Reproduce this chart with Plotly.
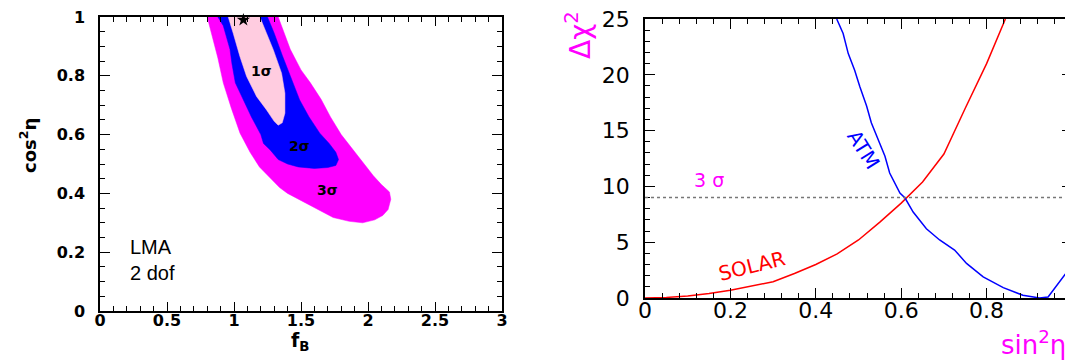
import plotly.graph_objects as go

# ---------------- data: left panel (f_B vs cos^2 eta contours) ----------------
sig3_x = [0.80, 1.33, 1.33, 1.42, 1.50, 1.57, 1.65, 1.72, 1.80, 1.89, 1.97, 2.04, 2.10, 2.16, 2.17,
          2.15, 2.11, 2.05, 1.96, 1.86, 1.74, 1.59, 1.46, 1.40, 1.34, 1.25, 1.19, 1.12, 1.045, 0.98,
          0.92, 0.88, 0.84, 0.80]
sig3_y = [1.03, 1.03, 1.0, 0.89, 0.82, 0.776, 0.72, 0.66, 0.60, 0.548, 0.50, 0.46, 0.43, 0.405, 0.38,
          0.345, 0.325, 0.31, 0.30, 0.305, 0.318, 0.354, 0.385, 0.40, 0.42, 0.46, 0.49, 0.54, 0.605, 0.69,
          0.776, 0.86, 0.93, 1.0]

sig2_x = [0.88, 1.25, 1.25, 1.30, 1.36, 1.42, 1.49, 1.56, 1.64, 1.71, 1.76, 1.78, 1.76, 1.70, 1.60,
          1.48, 1.40, 1.33, 1.27, 1.22, 1.20, 1.13, 1.07, 1.01, 0.985, 0.97, 0.92, 0.88]
sig2_y = [1.03, 1.03, 1.0, 0.945, 0.87, 0.80, 0.718, 0.66, 0.605, 0.57, 0.54, 0.515, 0.495, 0.488, 0.485,
          0.49, 0.50, 0.515, 0.548, 0.57, 0.60, 0.66, 0.72, 0.776, 0.84, 0.89, 0.97, 1.0]

sig1_x = [0.957, 1.193, 1.193, 1.243, 1.293, 1.355, 1.38, 1.38, 1.36, 1.33, 1.30, 1.243, 1.168,
          1.094, 1.044, 0.994, 0.957]
sig1_y = [1.03, 1.03, 1.0, 0.945, 0.889, 0.809, 0.741, 0.673, 0.64, 0.632, 0.645, 0.684, 0.73,
          0.798, 0.866, 0.945, 1.0]

best_fit_x = [1.07]
best_fit_y = [0.99]

left_xticks = [0, 0.5, 1, 1.5, 2, 2.5, 3]
left_xlabels = ["0", "0.5", "1", "1.5", "2", "2.5", "3"]
left_yticks = [0, 0.2, 0.4, 0.6, 0.8, 1]
left_ylabels = ["0", "0.2", "0.4", "0.6", "0.8", "1"]

# ---------------- data: right panel (delta chi^2 vs sin^2 eta) ----------------
solar_x = [0, 0.05, 0.1, 0.15, 0.2, 0.25, 0.3, 0.35, 0.4, 0.45, 0.5, 0.55, 0.6, 0.65, 0.7, 0.75, 0.8, 0.844]
solar_y = [0, 0.05, 0.18, 0.4, 0.7, 1.05, 1.45, 2.2, 3.0, 3.95, 5.2, 6.8, 8.5, 10.4, 12.9, 17.0, 21.0, 25.0]

atm_x = [0.449, 0.464, 0.476, 0.491, 0.503, 0.519, 0.53, 0.546, 0.562, 0.573, 0.589, 0.597, 0.609,
         0.628, 0.659, 0.69, 0.725, 0.753, 0.792, 0.839, 0.885, 0.924, 0.944, 0.971, 1.0]
atm_y = [25, 23.7, 21.9, 20.4, 18.95, 17.2, 15.7, 14.2, 12.7, 11.2, 10.0, 9.4, 8.96,
         7.7, 6.2, 5.2, 4.3, 3.1, 1.9, 0.93, 0.24, 0.0, 0.09, 1.44, 2.93]

three_sigma_level = 9.0

right_xticks = [0, 0.2, 0.4, 0.6, 0.8, 1]
right_xlabels = ["0", "0.2", "0.4", "0.6", "0.8", "1"]
right_yticks = [0, 5, 10, 15, 20, 25]
right_ylabels = ["0", "5", "10", "15", "20", "25"]

# ---------------- figure ----------------
W, H = 1073, 360
OFF = 8  # page body margin offset


def px(xp):
    return (xp - OFF) / W


def py(yp):
    return 1 - (yp - OFF) / H


fig = go.Figure()

MAGENTA = "#ff00ff"
BLUE = "#0000ff"
PINK = "#ffcce0"

for xs, ys, col in [(sig3_x, sig3_y, MAGENTA), (sig2_x, sig2_y, BLUE), (sig1_x, sig1_y, PINK)]:
    fig.add_trace(go.Scatter(x=xs, y=ys, mode="lines", fill="toself", fillcolor=col,
                             line=dict(color=col, width=0.5), xaxis="x", yaxis="y",
                             hoverinfo="skip", showlegend=False))

fig.add_trace(go.Scatter(x=best_fit_x, y=best_fit_y, mode="markers",
                         marker=dict(symbol="star", size=10, color="black"),
                         xaxis="x", yaxis="y", cliponaxis=False, showlegend=False))

fig.add_trace(go.Scatter(x=solar_x, y=solar_y, mode="lines", line=dict(color="#ff0000", width=1.5),
                         xaxis="x2", yaxis="y2", showlegend=False))
fig.add_trace(go.Scatter(x=atm_x, y=atm_y, mode="lines", line=dict(color=BLUE, width=1.5),
                         xaxis="x2", yaxis="y2", showlegend=False))

fig.add_shape(type="line", xref="x2", yref="y2", x0=0, x1=1, y0=three_sigma_level, y1=three_sigma_level,
              line=dict(color="#777777", width=1.5, dash="dot"))

left_tick_font = dict(family="DejaVu Sans", size=16, color="black", weight="bold")
right_tick_font = dict(family="DejaVu Sans", size=22, color="black")

common = dict(showline=True, linecolor="black", linewidth=1.5, mirror="ticks", ticks="inside",
              tickcolor="black", tickwidth=1.2, showgrid=False, zeroline=False, fixedrange=True,
              automargin=False, ticklabeloverflow="allow")

fig.update_layout(
    width=W, height=H, margin=dict(l=0, r=0, t=0, b=0, autoexpand=False),
    paper_bgcolor="white", plot_bgcolor="white",
    xaxis=dict(domain=[px(100), px(502)], range=[0, 3], anchor="y",
               tickvals=left_xticks, ticktext=left_xlabels, ticklen=9,
               minor=dict(dtick=0.1, ticklen=5, ticks="inside", tickcolor="black", tickwidth=1),
               tickfont=left_tick_font, ticklabelstandoff=-6, **common),
    yaxis=dict(domain=[py(311), py(17)], range=[0, 1], anchor="x",
               tickvals=left_yticks, ticktext=left_ylabels, ticklen=10,
               minor=dict(dtick=0.05, ticklen=5, ticks="inside", tickcolor="black", tickwidth=1),
               tickfont=left_tick_font, ticklabelstandoff=10, **common),
    xaxis2=dict(domain=[px(645), px(1072)], range=[0, 1], anchor="y2",
                tickvals=right_xticks, ticktext=right_xlabels, ticklen=10,
                minor=dict(dtick=0.04, ticklen=5, ticks="inside", tickcolor="black", tickwidth=1),
                tickfont=right_tick_font, ticklabelstandoff=-8, **common),
    yaxis2=dict(domain=[py(298), py(19)], range=[0, 25], anchor="x2",
                tickvals=right_yticks, ticktext=right_ylabels, ticklen=10,
                minor=dict(dtick=1, ticklen=5, ticks="inside", tickcolor="black", tickwidth=1),
                tickfont=right_tick_font, ticklabelstandoff=9, **common),
)

ann = []
C = dict(showarrow=False, xanchor="center", yanchor="middle")
sig_font = dict(family="DejaVu Sans", size=14, color="black", weight="bold")
ann.append(dict(x=1.205, y=0.815, xref="x", yref="y", text="1σ", font=sig_font, **C))
ann.append(dict(x=1.49, y=0.562, xref="x", yref="y", text="2σ", font=sig_font, **C))
ann.append(dict(x=1.70, y=0.411, xref="x", yref="y", text="3σ", font=sig_font, **C))
lbl_font = dict(family="Liberation Sans", size=20, color="black")
ann.append(dict(x=0.21, y=0.218, xref="x", yref="y", text="LMA", showarrow=False,
                xanchor="left", yanchor="middle", font=lbl_font))
ann.append(dict(x=0.21, y=0.13, xref="x", yref="y", text="2 dof", showarrow=False,
                xanchor="left", yanchor="middle", font=lbl_font))
ann.append(dict(x=px(28), y=py(146), xref="paper", yref="paper", text="cos<sup>2</sup>η",
                textangle=-90, font=dict(family="DejaVu Sans", size=18, color="black", weight="bold"), **C))
ann.append(dict(x=px(300), y=py(341), xref="paper", yref="paper", text="f<sub>B</sub>",
                font=dict(family="DejaVu Sans", size=19, color="black", weight="bold"), **C))

ann.append(dict(x=0.15, y=10.6, xref="x2", yref="y2", text="3 σ",
                font=dict(family="DejaVu Sans", size=19, color=MAGENTA), **C))
ann.append(dict(x=0.513, y=13.3, xref="x2", yref="y2", text="ATM", textangle=58,
                font=dict(family="DejaVu Sans", size=20, color=BLUE), **C))
ann.append(dict(x=0.25, y=2.9, xref="x2", yref="y2", text="SOLAR", textangle=-14,
                font=dict(family="DejaVu Sans", size=20, color="#ff0000"), **C))
ann.append(dict(x=px(579), y=py(35), xref="paper", yref="paper", text="Δχ<sup>2</sup>",
                textangle=-90, font=dict(family="DejaVu Sans", size=28, color=MAGENTA), **C))
ann.append(dict(x=px(1068), y=py(343), xref="paper", yref="paper", text="sin<sup>2</sup>η",
                xanchor="right", yanchor="middle", showarrow=False,
                font=dict(family="DejaVu Sans", size=26, color=MAGENTA)))
fig.update_layout(annotations=ann)

fig.write_html("out.html")
